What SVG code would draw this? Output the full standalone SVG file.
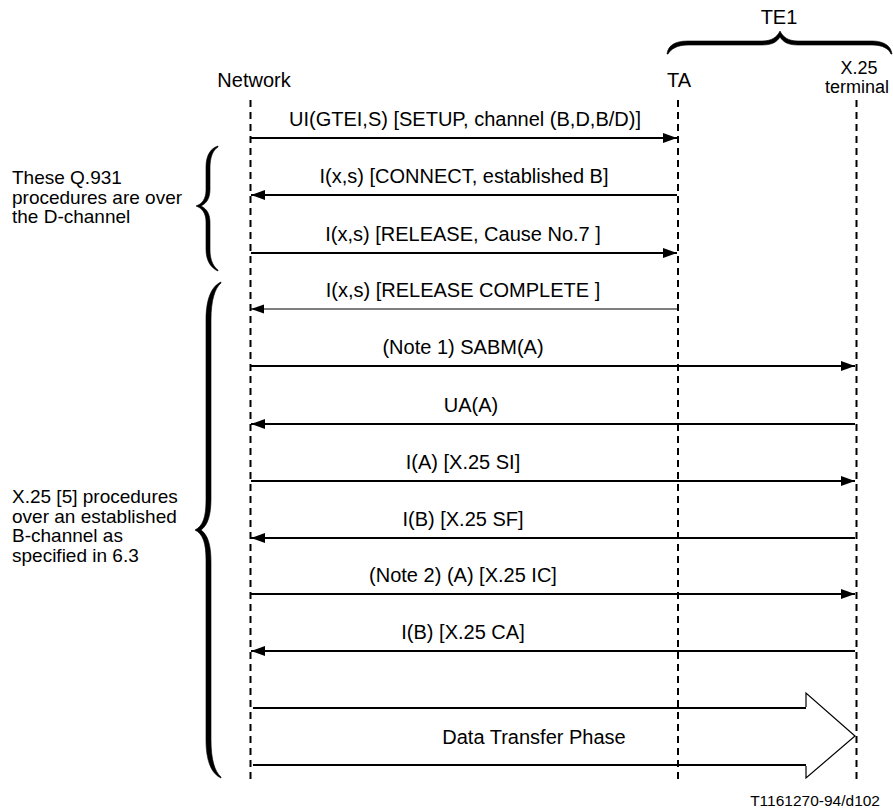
<svg xmlns="http://www.w3.org/2000/svg" width="893" height="812" viewBox="0 0 893 812">
<style>
text{font-family:"Liberation Sans",Arial,sans-serif;fill:#000}
.lbl{font-size:20px;text-anchor:middle}
.hdr{font-size:20px;text-anchor:middle}
.hdr2{font-size:18px;text-anchor:middle}
.note{font-size:19px}
.life{stroke:#000;stroke-width:2;stroke-dasharray:7 5;fill:none}
.msg{stroke:#000;stroke-width:2;fill:none}
.thin{stroke:#000;stroke-width:1.2;fill:none}
.brace{fill:#000;stroke:#000;stroke-width:0.6}
</style>
<defs>
<marker id="ah" markerUnits="userSpaceOnUse" markerWidth="15" markerHeight="11" refX="14" refY="5" orient="auto">
<path d="M0,0 L14,5 L0,10 z" fill="#000"/>
</marker>
<marker id="ah2" markerUnits="userSpaceOnUse" markerWidth="15" markerHeight="11" refX="13" refY="5" orient="auto">
<path d="M0,0.5 L13,5 L0,9.5 z" fill="#000"/>
</marker>
</defs>
<rect width="893" height="812" fill="#fff"/>

<g id="te1">
<text class="hdr" x="779" y="24">TE1</text>
<path class="brace" d="M667,54 C668,46 674,41 688,41 L762,41 C772,41 777,37 780,31 C783,37 788,41 798,41 L872,41 C884,41 891,46 892,54 L891,54 C889,49 883,45 872,45 L798,45 C788,45 783,42 780,37 C777,42 772,45 762,45 L688,45 C677,45 671,49 668,54 Z"/>
</g>

<g id="network">
<text class="hdr" x="254" y="87">Network</text>
<line class="life" x1="250.5" y1="100" x2="250.5" y2="779"/>
</g>
<g id="ta">
<text class="hdr" x="679" y="87">TA</text>
<line class="life" x1="678" y1="100" x2="678" y2="779"/>
</g>
<g id="x25terminal">
<text class="hdr2" x="859" y="74">X.25</text>
<text class="hdr2" x="857" y="93">terminal</text>
<line class="life" x1="856.5" y1="100" x2="856.5" y2="779"/>
</g>

<g id="dchannel-note">
<path class="brace" d="M218,146 C211,148 206,155 206,167 L206,190 C206,199 202,204 196,206 C202,208 206,213 206,222 L206,249 C206,261 211,268 218,271 L218,270 C214,267 210,261 210,250 L210,223 C210,214 207,209 201,206 C207,203 210,198 210,189 L210,168 C210,157 213,150 218,147 Z"/>
<text class="note" x="12" y="184">These Q.931</text>
<text class="note" x="12" y="203.5">procedures are over</text>
<text class="note" x="12" y="223">the D-channel</text>
</g>

<g id="x25-note">
<path class="brace" d="M221,282 C212,286 206,298 206,320 L206,500 C206,517 203,526 195,530 C203,534 206,543 206,560 L206,740 C206,762 212,774 221,778 L221,777 C215,772 211,760 211,740 L211,562 C211,545 208,535 201,530 C208,525 211,515 211,498 L211,320 C211,300 215,288 221,283 Z"/>
<text class="note" x="12" y="503">X.25 [5] procedures</text>
<text class="note" x="12" y="522.5">over an established</text>
<text class="note" x="12" y="542">B-channel as</text>
<text class="note" x="12" y="561.5">specified in 6.3</text>
</g>

<g id="connectors">
<line class="msg" x1="251" y1="138" x2="677" y2="138" marker-end="url(#ah)"/>
<text class="lbl" x="465" y="126">UI(GTEI,S) [SETUP, channel (B,D,B/D)]</text>

<line class="msg" x1="677" y1="195" x2="251" y2="195" marker-end="url(#ah)"/>
<text class="lbl" x="464" y="183">I(x,s) [CONNECT, established B]</text>

<line class="msg" x1="251" y1="253" x2="677" y2="253" marker-end="url(#ah)"/>
<text class="lbl" x="463" y="241">I(x,s) [RELEASE, Cause No.7 ]</text>

<line class="thin" x1="677" y1="309" x2="251" y2="309" marker-end="url(#ah2)"/>
<text class="lbl" x="463" y="297">I(x,s) [RELEASE COMPLETE ]</text>

<line class="msg" x1="251" y1="366" x2="855" y2="366" marker-end="url(#ah)"/>
<text class="lbl" x="463" y="354">(Note 1) SABM(A)</text>

<line class="msg" x1="855" y1="424" x2="251" y2="424" marker-end="url(#ah)"/>
<text class="lbl" x="471" y="412">UA(A)</text>

<line class="msg" x1="251" y1="481" x2="855" y2="481" marker-end="url(#ah)"/>
<text class="lbl" x="463" y="469">I(A) [X.25 SI]</text>

<line class="msg" x1="855" y1="538" x2="251" y2="538" marker-end="url(#ah)"/>
<text class="lbl" x="463" y="526">I(B) [X.25 SF]</text>

<line class="msg" x1="251" y1="594" x2="855" y2="594" marker-end="url(#ah)"/>
<text class="lbl" x="463" y="582">(Note 2) (A) [X.25 IC]</text>

<line class="msg" x1="855" y1="651" x2="251" y2="651" marker-end="url(#ah)"/>
<text class="lbl" x="463" y="639">I(B) [X.25 CA]</text>

<g id="data-transfer">
<line class="msg" x1="253" y1="708" x2="806" y2="708"/>
<line class="msg" x1="253" y1="765" x2="806" y2="765"/>
<polyline points="806,707 806,693 855,736 806,778 806,766" fill="none" stroke="#000" stroke-width="1.2"/>
<text class="lbl" x="534" y="744">Data Transfer Phase</text>
</g>
</g>

<text x="880" y="806" font-size="15.5" text-anchor="end">T1161270-94/d102</text>
</svg>
